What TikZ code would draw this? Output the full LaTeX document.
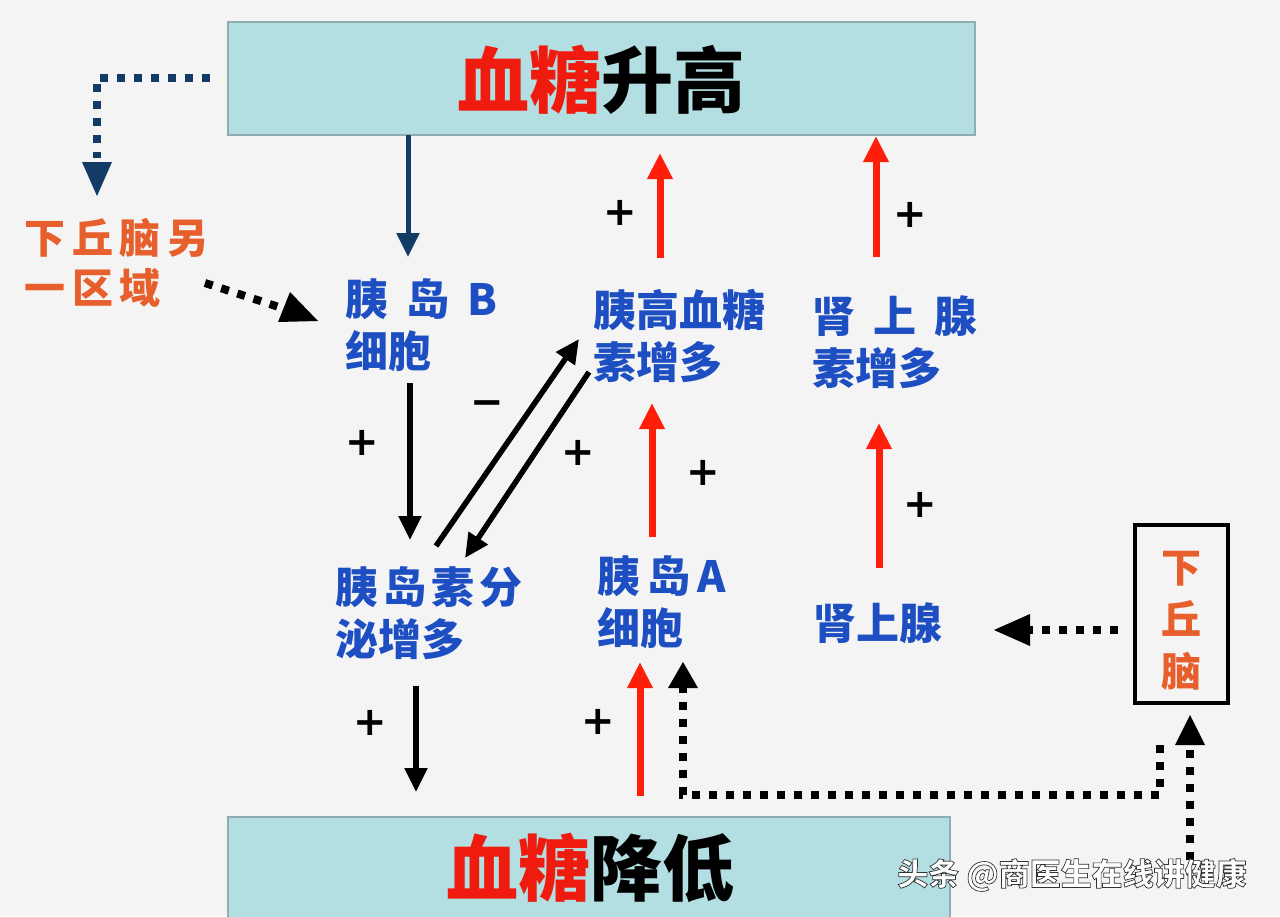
\documentclass[tikz,border=0pt]{standalone}
\usepackage{fontspec}
\setmainfont{Noto Sans CJK SC}
\newfontfamily\dejavu{DejaVu Sans}
\usetikzlibrary{arrows.meta}
\definecolor{bgc}{HTML}{F4F4F4}
\definecolor{boxfill}{HTML}{B3DEE2}
\definecolor{boxline}{HTML}{8FAEB1}
\definecolor{tred}{HTML}{EE1B0E}
\definecolor{ared}{HTML}{FF1E0A}
\definecolor{lblue}{HTML}{1E4FC2}
\definecolor{orng}{HTML}{E65F2D}
\definecolor{navy}{HTML}{123B66}
\newcommand{\gp}{\hspace{18pt}}
\newcommand{\sg}{\hspace{5pt}}
\tikzset{
  titlebox/.style={draw=boxline,line width=1.5pt,fill=boxfill},
  title/.style={font=\fontsize{72}{80}\selectfont\bfseries,inner sep=0pt},
  lbl/.style={font=\fontsize{43}{52}\selectfont\bfseries,text=lblue,align=left,anchor=west,inner sep=0pt},
  olbl/.style={font=\fontsize{41}{50}\selectfont\bfseries,text=orng,align=left,anchor=west,inner sep=0pt},
  sgn/.style={font=\dejavu\fontsize{40}{40}\selectfont\bfseries,inner sep=0pt},
  blk/.style={draw=black,line width=5.5pt,-{Triangle[length=24pt,width=22pt]}},
  red/.style={draw=ared,line width=7pt,-{Triangle[length=26pt,width=24pt]}},
  nvy/.style={draw=navy,line width=5pt,-{Triangle[length=24pt,width=22pt]}},
  dots/.style={line width=8pt,dash pattern=on 8pt off 9pt},
}
\begin{document}
\begin{tikzpicture}[x=1pt,y=-1pt]
\useasboundingbox (0,0) rectangle (1280,916);
\fill[bgc] (0,0) rectangle (1280,916);
% title boxes
\draw[titlebox] (228,22) rectangle (975,135);
\node[title] (top) at (601,80) {\textcolor{tred}{血糖}升高};
\coordinate (topS) at (601,135);
\draw[titlebox] (228,817) rectangle (950,930);
\node[title] (bot) at (590,868) {\textcolor{tred}{血糖}降低};
% labels
\node[olbl] (hyp2) at (24,263) {下\,丘\,脑\,另\\一\,区\,域};
\node[lbl] (B) at (345,325) {胰\gp 岛\gp B\\细胞};
\node[lbl] (glu) at (593,336) {胰高血糖\\素增多};
\node[lbl] (adr) at (812,342) {肾\gp 上\gp 腺\\素增多};
\node[lbl] (ins) at (335,613) {胰\sg 岛\sg 素\sg 分\\泌增多};
\node[lbl] (A) at (597,602) {胰\,岛\,A\\细胞};
\node[lbl] (ag) at (813,623) {肾上腺};
\draw[black,line width=4pt] (1135,525) rectangle (1228,703);
\node[font=\fontsize{40}{52}\selectfont\bfseries,text=orng,align=center,inner sep=0pt] (hyp) at (1181,621) {下\\丘\\脑};
\coordinate (hypS) at (1190,703);
% signs
\node[sgn] (p1) at (620,213) {+};
\node[sgn] (p2) at (910,215) {+};
\node[sgn] (p3) at (362,443) {+};
\node[sgn] (m1) at (487,408) {−};
\node[sgn] (p4) at (578,453) {+};
\node[sgn] (p5) at (703,473) {+};
\node[sgn] (p6) at (920,505) {+};
\node[sgn] (p7) at (370,723) {+};
\node[sgn] (p8) at (598,722) {+};
% solid arrows
\draw[nvy] (topS -| 408,0) -- (408,257);
\draw[blk] (410,383) -- (410,540);
\draw[blk] (436,546) -- (579,339);
\draw[blk] (589,372) -- (465,558);
\draw[blk] (416,686) -- (416,792);
\draw[red] (660,258) -- (660,153);
\draw[red] (876,257) -- (876,136);
\draw[red] (652,537) -- (652,403);
\draw[red] (879,568) -- (879,423);
\draw[red] (640,796) -- (640,662);
% dotted arrows
\draw[navy,dots] (210,78) -- (97,78) -- (97,158);
\fill[navy] (82,162) -- (112,162) -- (97,196) -- cycle;
\draw[black,dots] (205,283) -- (282,308);
\fill[black] (318,321) -- (278,322) -- (290,292) -- cycle;
\draw[black,dots] (1118,630) -- (1030,630);
\fill[black] (994,630) -- (1030,614) -- (1030,646) -- cycle;
\draw[black,dots] (1160,745) -- (1160,795) -- (683,795) -- (683,688);
\fill[black] (683,662) -- (668,688) -- (698,688) -- cycle;
\draw[black,dots] (1190,860) -- (1190,745);
\fill[black] (1190,715) -- (1175,745) -- (1205,745) -- cycle;
% watermark (white text with dark outline)
\node[font=\fontsize{31}{31}\selectfont\bfseries,text=white,inner sep=0pt] (wm) at (1072,875)
  {\special{pdf:literal 2 Tr 0.2 0.2 0.2 RG 0.7 w}头条 @商医生在线讲健康\special{pdf:literal 0 Tr}};
\end{tikzpicture}
\end{document}
